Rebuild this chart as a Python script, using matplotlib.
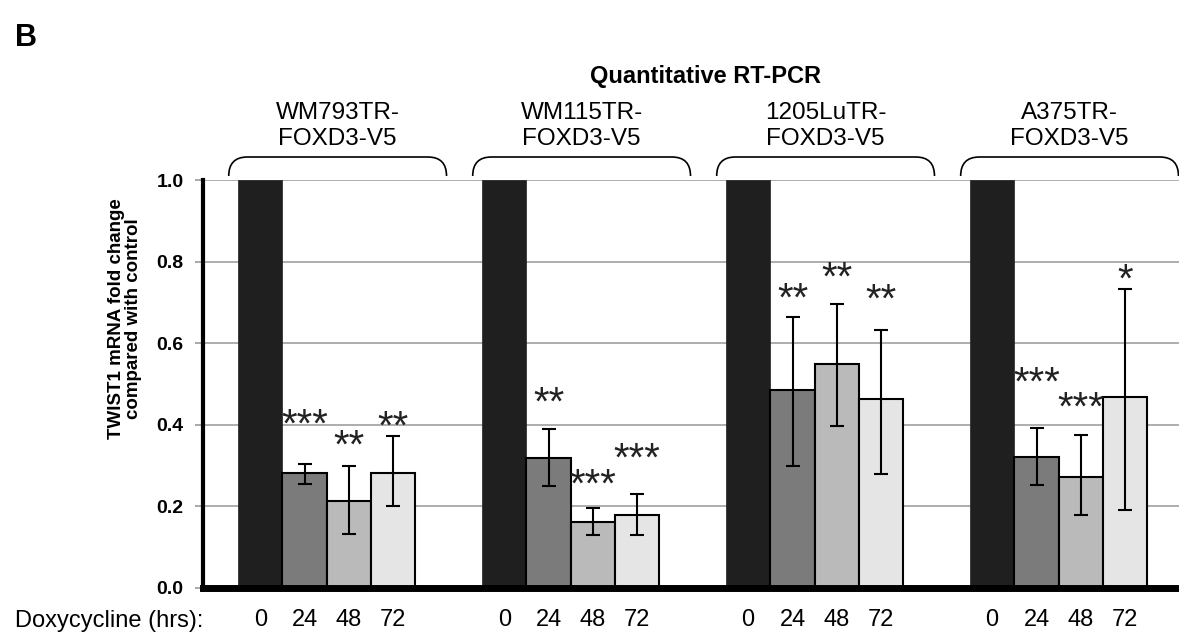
import matplotlib
matplotlib.use('Agg')
import matplotlib.pyplot as plt
import matplotlib.transforms as mtransforms
from matplotlib.path import Path
from matplotlib.patches import PathPatch
import numpy as np

plt.rcParams['font.family'] = ['Liberation Sans', 'DejaVu Sans']

# ---------------- data ----------------
groups = ['WM793TR-\nFOXD3-V5', 'WM115TR-\nFOXD3-V5', '1205LuTR-\nFOXD3-V5', 'A375TR-\nFOXD3-V5']
hours = ['0', '24', '48', '72']

mean_0h = [1.0, 1.0, 1.0, 1.0]
mean_24h = [0.283, 0.319, 0.486, 0.322]
mean_48h = [0.214, 0.162, 0.550, 0.273]
mean_72h = [0.283, 0.180, 0.463, 0.467]

low_24h = [0.254, 0.250, 0.300, 0.252]
low_48h = [0.132, 0.130, 0.398, 0.178]
low_72h = [0.200, 0.130, 0.280, 0.190]

high_24h = [0.304, 0.389, 0.664, 0.393]
high_48h = [0.300, 0.195, 0.696, 0.375]
high_72h = [0.372, 0.231, 0.632, 0.733]

stars_24h = ['***', '**', '**', '***']
stars_48h = ['**', '***', '**', '***']
stars_72h = ['**', '***', '**', '*']

star_y_24h = [0.430, 0.482, 0.737, 0.531]
star_y_48h = [0.377, 0.282, 0.788, 0.470]
star_y_72h = [0.425, 0.345, 0.735, 0.784]

yticks = [0.0, 0.2, 0.4, 0.6, 0.8, 1.0]
ylabel = 'TWIST1 mRNA fold change\ncompared with control'
title = 'Quantitative RT-PCR'
xlabel = 'Doxycycline (hrs):'
panel = 'B'

# ---------------- figure ----------------
W, H = 1179, 635
fig = plt.figure(figsize=(W / 100, H / 100), dpi=100)
ax = fig.add_axes([203 / W, 47 / H, (W - 203) / W, 408 / H])

colors = ['#1f1f1f', '#7b7b7b', '#bababa', '#e5e5e5']
group_step = 5.5
gpos = np.arange(len(groups)) * group_step

means = [mean_0h, mean_24h, mean_48h, mean_72h]
lows = [None, low_24h, low_48h, low_72h]
highs = [None, high_24h, high_48h, high_72h]
stars = [None, stars_24h, stars_48h, stars_72h]
star_ys = [None, star_y_24h, star_y_48h, star_y_72h]

star_tr = mtransforms.offset_copy(ax.transData, fig=fig, y=-17, units='points')

for t in range(4):
    xs = gpos + t + 0.5
    m = np.array(means[t])
    if t == 0:
        ax.bar(xs, m, width=1.0, color=colors[t], edgecolor=colors[t], linewidth=0.5, zorder=3)
    else:
        ax.bar(xs, m, width=1.0, color=colors[t], edgecolor='black', linewidth=1.5, zorder=3)
        lo = np.array(lows[t]); hi = np.array(highs[t])
        ax.errorbar(xs, m, yerr=[m - lo, hi - m], fmt='none', ecolor='black',
                    elinewidth=1.5, capsize=5, capthick=1.5, zorder=4)
        for x, s, sy in zip(xs, stars[t], star_ys[t]):
            ax.text(x, sy, s, ha='center', va='baseline', fontsize=29,
                    transform=star_tr, zorder=5, clip_on=False, color='#222222')

ax.set_xlim(-0.79, -0.79 + (W - 203) / 44.36)
ax.set_ylim(0, 1.0)

# ticks
ax.set_yticks(yticks)
ax.set_yticklabels([f'{v:.1f}' for v in yticks], fontweight='bold', fontsize=14)
ax.tick_params(axis='y', length=6, width=1.2, color='#999999', pad=8, direction='out')
centers = [g + t + 0.5 for g in gpos for t in range(4)]
ax.set_xticks(centers)
ax.set_xticklabels(hours * len(groups), fontsize=17)
ax.tick_params(axis='x', length=0, pad=15)

# spines
for s in ['top', 'right']:
    ax.spines[s].set_visible(False)
ax.spines['left'].set_linewidth(3)
ax.spines['bottom'].set_linewidth(5)
ax.spines['left'].set_zorder(6)
ax.spines['bottom'].set_zorder(6)

ax.yaxis.grid(True, color='#a0a0a0', linewidth=1.2, zorder=0)
ax.set_axisbelow(True)

# brackets and group labels
trans = mtransforms.blended_transform_factory(ax.transData, ax.transAxes)
yt = (588 - 157) / 408
yb = (588 - 176) / 408
for g, lab in zip(gpos, groups):
    x0 = g - 0.21
    x1 = g + 4.70
    rx = 0.42
    verts = [(x0, yb), (x0, yt), (x0 + rx, yt), (x1 - rx, yt), (x1, yt), (x1, yb)]
    codes = [Path.MOVETO, Path.CURVE3, Path.CURVE3, Path.LINETO, Path.CURVE3, Path.CURVE3]
    ax.add_patch(PathPatch(Path(verts, codes), transform=trans, fill=False,
                           edgecolor='black', linewidth=1.2, clip_on=False))
    ax.text((x0 + x1) / 2, (588 - 144.5) / 408, lab, transform=trans, ha='center',
            va='baseline', fontsize=17.5, linespacing=1.2, multialignment='center')

fig.text(125 / W, 0.4976, ylabel, rotation=90, ha='center', va='center',
         fontsize=13.5, fontweight='bold', linespacing=1.05, multialignment='center')
fig.text(706 / W, (H - 83) / H, title, ha='center', va='baseline', fontsize=17, fontweight='bold')
fig.text(15 / W, (H - 627) / H, xlabel, ha='left', va='baseline', fontsize=17)
fig.text(15 / W, (H - 46) / H, panel, ha='left', va='baseline', fontsize=22, fontweight='bold')

fig.savefig('out.png', dpi=100)
